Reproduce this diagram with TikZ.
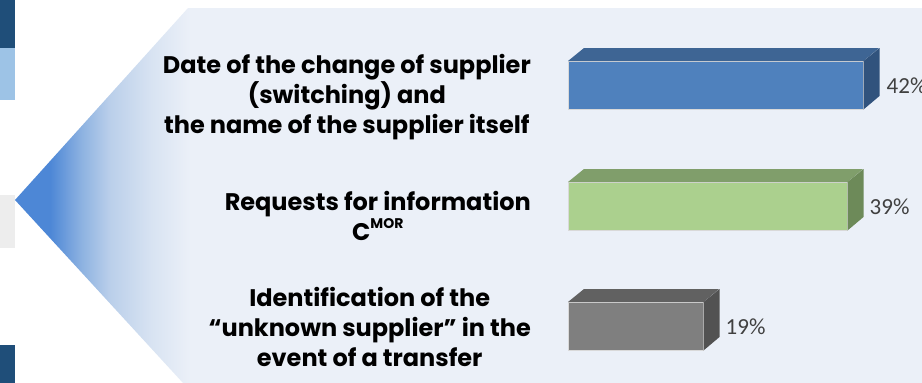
\documentclass[tikz,border=0pt]{standalone}
\usepackage{fontspec}
\setmainfont{Poppins}
\newfontfamily\pctfont{Carlito}
\usetikzlibrary{positioning}

\definecolor{panelbg}{HTML}{EBF0F8}
\definecolor{stripdark}{HTML}{1F4E79}
\definecolor{striplight}{HTML}{9DC3E6}
\definecolor{stripgray}{HTML}{EDEDED}
\definecolor{tipblue}{HTML}{4D87D6}
\definecolor{tipmid}{HTML}{8DB2E1}
\definecolor{tiplight}{HTML}{BACFEA}
\definecolor{tippale}{HTML}{D8E3F2}
\definecolor{bluefront}{HTML}{4F81BD}
\definecolor{bluetop}{HTML}{3E6594}
\definecolor{blueside}{HTML}{31537D}
\definecolor{greenfront}{HTML}{ABD08E}
\definecolor{greentop}{HTML}{809E6B}
\definecolor{greenside}{HTML}{6D8A59}
\definecolor{grayfront}{HTML}{7F7F7F}
\definecolor{graytop}{HTML}{616161}
\definecolor{grayside}{HTML}{525252}
\definecolor{pcttext}{HTML}{404040}

\pgfdeclarehorizontalshading{tipfade}{100bp}{color(0bp)=(tipblue); color(25bp)=(tipblue); color(35bp)=(tipblue); color(44bp)=(tipmid); color(52bp)=(tiplight); color(64bp)=(tippale); color(75bp)=(panelbg); color(100bp)=(panelbg)}

\begin{document}
\begin{tikzpicture}[x=1pt,y=-1pt,
    item/.style={align=center,anchor=east,inner sep=0pt,font=\bfseries\fontsize{24}{30}\selectfont},
    bar/.style={rectangle,anchor=north west,inner sep=0pt,minimum height=48pt,draw=white!70!gray,line width=0.5pt},
    pct/.style={inner sep=0pt,text=pcttext,font=\pctfont\fontsize{23}{23}\selectfont}]
        \useasboundingbox (0,0) rectangle (922,383);

        % side strips
        \fill[stripdark] (0,0) rectangle (15,48);
        \fill[striplight] (0,48) rectangle (15,100);
        \fill[stripgray] (0,195) rectangle (15,248);
        \fill[stripdark] (0,345) rectangle (15,383);

        % panel with the pointed tip
        \fill[panelbg] (188,8) rectangle (922,383);
        \shade[shading=tipfade] (190,8) -- (188,8) -- (15,200) -- (183,383) -- (190,383) -- cycle;

        % labels
        \node[item] at (531, 97) (date) {Date of the change of supplier\\(switching) and\\the name of the supplier itself};
        \node[item] at (531, 216) (req) {Requests for information\\C\raisebox{0.5em}{\fontsize{14}{14}\selectfont MOR}};
        \node[item] at (531, 327) (ident) {Identification of the\\``unknown supplier'' in the\\event of a transfer};

        % bars
        \node[bar, fill=bluefront, minimum width=295pt] at (568, 61) (bar1) {};
        \fill[bluetop] (bar1.north west) -- ++(16,-13) -- ++(295,0) -- (bar1.north east) -- cycle;
        \fill[blueside] (bar1.north east) -- ++(16,-13) -- ++(0,48) -- (bar1.south east) -- cycle;

        \node[bar, fill=greenfront, minimum width=279pt] at (568, 182) (bar2) {};
        \fill[greentop] (bar2.north west) -- ++(16,-13) -- ++(279,0) -- (bar2.north east) -- cycle;
        \fill[greenside] (bar2.north east) -- ++(16,-13) -- ++(0,48) -- (bar2.south east) -- cycle;

        \node[bar, fill=grayfront, minimum width=135pt] at (568, 302) (bar3) {};
        \fill[graytop] (bar3.north west) -- ++(16,-13) -- ++(135,0) -- (bar3.north east) -- cycle;
        \fill[grayside] (bar3.north east) -- ++(16,-13) -- ++(0,48) -- (bar3.south east) -- cycle;

        % values
        \node[pct, right=23pt of bar1] (val1) {42\%};
        \node[pct, right=22pt of bar2] (val2) {39\%};
        \node[pct, right=22pt of bar3] (val3) {19\%};
        \end{tikzpicture}
\end{document}
